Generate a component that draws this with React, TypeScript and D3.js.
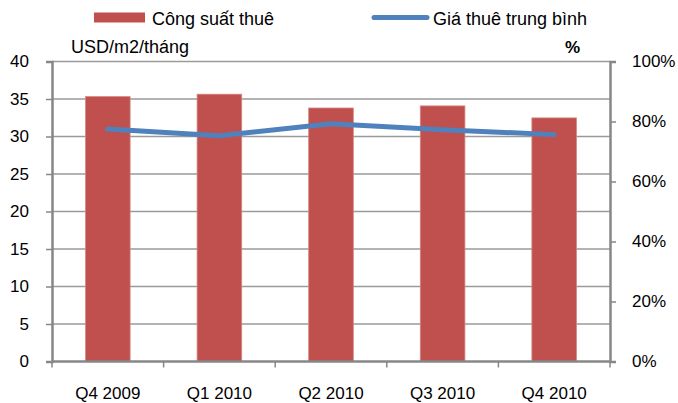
import React, { useEffect, useRef } from 'react';
import * as d3 from 'd3';

const categories = ['Q4 2009', 'Q1 2010', 'Q2 2010', 'Q3 2010', 'Q4 2010'];
// Công suất thuê (%), right axis
const occupancy = [88.3, 89.1, 84.5, 85.2, 81.2];
// Giá thuê trung bình (USD/m2/tháng), left axis
const rent = [31.0, 30.1, 31.7, 30.9, 30.25];
const leftTicks = [0, 5, 10, 15, 20, 25, 30, 35, 40];
const rightTicks = [0, 20, 40, 60, 80, 100];

const BAR_COLOR = '#C0504D';
const LINE_COLOR = '#4F81BD';
const AXIS_COLOR = '#878787';
const GRID_COLOR = '#9a9a9a';
const FONT = '"Liberation Sans", Arial, sans-serif';

const App: React.FC = () => {
  const svgRef = useRef<SVGSVGElement | null>(null);

  useEffect(() => {
    const width = 678;
    const height = 403;
    const svg = d3.select(svgRef.current);
    svg.selectAll('*').remove();

    const margin = { top: 61.5, right: 68, bottom: 41.5, left: 52 };
    const innerWidth = width - margin.left - margin.right;
    const innerHeight = height - margin.top - margin.bottom;

    const x = d3.scaleBand().domain(categories).range([0, innerWidth]).padding(0);
    const yLeft = d3.scaleLinear().domain([0, 40]).range([innerHeight, 0]);
    const yRight = d3.scaleLinear().domain([0, 100]).range([innerHeight, 0]);

    const g = svg.append('g').attr('transform', `translate(${margin.left},${margin.top})`);

    // gridlines
    g.append('g')
      .selectAll('line')
      .data(leftTicks.filter(t => t > 0))
      .join('line')
      .attr('x1', 0)
      .attr('x2', innerWidth)
      .attr('y1', d => yLeft(d))
      .attr('y2', d => yLeft(d))
      .attr('stroke', GRID_COLOR)
      .attr('stroke-width', 1.5);

    // bars
    const barW = x.bandwidth() * 0.4;
    g.append('g')
      .selectAll('rect')
      .data(categories)
      .join('rect')
      .attr('x', d => x(d)! + (x.bandwidth() - barW) / 2)
      .attr('y', (d, i) => yRight(occupancy[i]))
      .attr('width', barW)
      .attr('height', (d, i) => innerHeight - yRight(occupancy[i]))
      .attr('fill', BAR_COLOR)
      .attr('stroke', '#d48886')
      .attr('stroke-width', 0.8);

    // line
    const line = d3.line<number>()
      .x((d, i) => x(categories[i])! + x.bandwidth() / 2)
      .y(d => yLeft(d));
    g.append('path')
      .datum(rent)
      .attr('d', line)
      .attr('fill', 'none')
      .attr('stroke', LINE_COLOR)
      .attr('stroke-width', 5)
      .attr('stroke-linecap', 'round')
      .attr('stroke-linejoin', 'round');

    // left axis
    const left = g.append('g')
      .call(d3.axisLeft(yLeft).tickValues(leftTicks).tickSize(6).tickPadding(17));
    left.select('.domain').attr('stroke', AXIS_COLOR).attr('stroke-width', 2.5);
    left.selectAll('.tick line').attr('stroke', AXIS_COLOR).attr('stroke-width', 1.5);
    left.selectAll('.tick text')
      .attr('fill', '#000')
      .style('font-family', FONT)
      .style('font-size', '17px');

    // right axis
    const right = g.append('g')
      .attr('transform', `translate(${innerWidth},0)`)
      .call(d3.axisRight(yRight).tickValues(rightTicks).tickSize(6).tickPadding(16).tickFormat(d => `${d}%`));
    right.select('.domain').attr('stroke', AXIS_COLOR).attr('stroke-width', 2.5);
    right.selectAll('.tick line').attr('stroke', AXIS_COLOR).attr('stroke-width', 1.5);
    right.selectAll('.tick text')
      .attr('fill', '#000')
      .style('font-family', FONT)
      .style('font-size', '17px');

    // bottom axis
    const bottom = g.append('g').attr('transform', `translate(0,${innerHeight})`);
    bottom.append('line')
      .attr('x1', 0)
      .attr('x2', innerWidth)
      .attr('stroke', AXIS_COLOR)
      .attr('stroke-width', 2.5);
    bottom.selectAll('.boundary')
      .data(categories.concat(['']))
      .join('line')
      .attr('class', 'boundary')
      .attr('x1', (d, i) => i * x.step())
      .attr('x2', (d, i) => i * x.step())
      .attr('y1', 0)
      .attr('y2', 6)
      .attr('stroke', AXIS_COLOR)
      .attr('stroke-width', 1.5);
    bottom.selectAll('text')
      .data(categories)
      .join('text')
      .attr('x', d => x(d)! + x.bandwidth() / 2)
      .attr('y', 37.5)
      .attr('text-anchor', 'middle')
      .style('font-family', FONT)
      .style('font-size', '17px')
      .text(d => d);

    // axis titles
    svg.append('text')
      .attr('x', 71)
      .attr('y', 53)
      .style('font-family', FONT)
      .style('font-size', '18px')
      .text('USD/m2/tháng');
    svg.append('text')
      .attr('x', 565)
      .attr('y', 53)
      .style('font-family', FONT)
      .style('font-size', '17px')
      .style('font-weight', 'bold')
      .text('%');

    // legend
    svg.append('rect')
      .attr('x', 94)
      .attr('y', 12.5)
      .attr('width', 51)
      .attr('height', 10)
      .attr('fill', BAR_COLOR);
    svg.append('text')
      .attr('x', 152)
      .attr('y', 25)
      .style('font-family', FONT)
      .style('font-size', '18px')
      .text('Công suất thuê');
    svg.append('line')
      .attr('x1', 374)
      .attr('x2', 427)
      .attr('y1', 17.5)
      .attr('y2', 17.5)
      .attr('stroke', LINE_COLOR)
      .attr('stroke-width', 5)
      .attr('stroke-linecap', 'round');
    svg.append('text')
      .attr('x', 433)
      .attr('y', 25)
      .style('font-family', FONT)
      .style('font-size', '18px')
      .text('Giá thuê trung bình');
  }, []);

  return (
    <svg
      ref={svgRef}
      width={678}
      height={403}
      style={{ position: 'absolute', top: 0, left: 0, background: '#fff' }}
    />
  );
};

export default App;
